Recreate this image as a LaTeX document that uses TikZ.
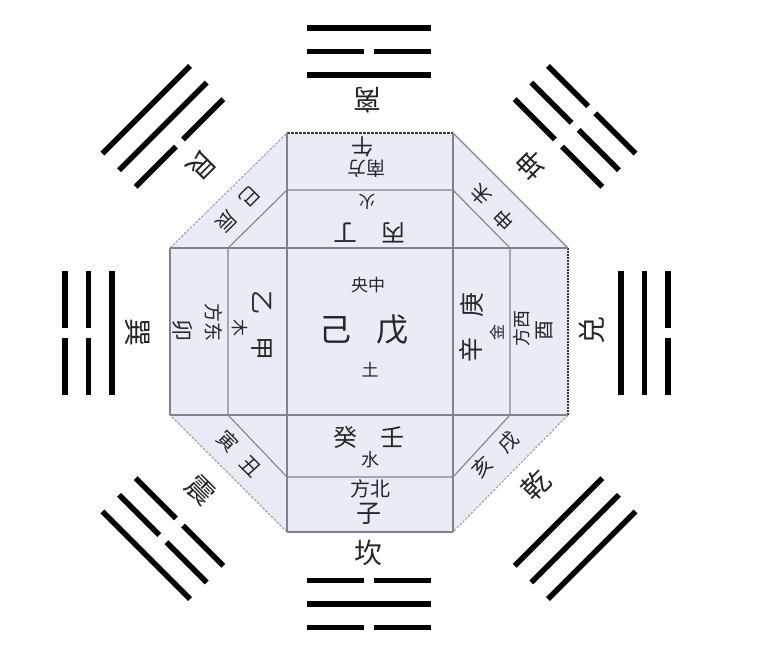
\documentclass[tikz,border=0pt]{standalone}
\usepackage{fontspec}
\newfontfamily\cjk{Noto Sans CJK SC}
\definecolor{panel}{RGB}{232,236,244}
\definecolor{rule}{RGB}{128,130,140}

% one trigram: angle, inner radius, inner/middle/outer line (1 = whole, 0 = broken)
\newcommand{\drawgua}[5]{%
  \begin{scope}[shift={(369,332.5)},rotate=#1]
    \foreach \k/\t in {0/#3,1/#4,2/#5}{
      \pgfmathsetmacro{\yaor}{#2+23.5*\k}
      \ifnum\t=1
        \draw[yao] (-62,\yaor) -- (62,\yaor);
      \else
        \draw[yao] (-62,\yaor) -- (-5,\yaor);
        \draw[yao] (5,\yaor) -- (62,\yaor);
      \fi
    }
  \end{scope}}

\begin{document}
\begin{tikzpicture}[x=1pt,y=-1pt,
  grid line/.style={draw=rule,line width=1.1pt},
  rim/.style={draw=rule,line width=1.1pt},
  rim dash/.style={draw=rule!75,line width=1.1pt,dash pattern=on 2.5pt off 1.5pt},
  yao/.style={draw=black,line width=5.5pt},
  hanzi/.style={font=\cjk\fontsize{#1}{#1}\selectfont,inner sep=0pt,text=black!85}]
  \useasboundingbox (0,0) rectangle (760,648);

  % outer octagon
  \coordinate (o1) at (287,133); \coordinate (o2) at (453,133);
  \coordinate (o3) at (568,248); \coordinate (o4) at (568,415);
  \coordinate (o5) at (453,532); \coordinate (o6) at (287,532);
  \coordinate (o7) at (170,415); \coordinate (o8) at (170,248);
  \fill[panel] (o1) -- (o2) -- (o3) -- (o4) -- (o5) -- (o6) -- (o7) -- (o8) -- cycle;
  \draw[rim dash,draw=rule!40!black] (o1) -- (o2);
  \draw[rim] (o2) -- (o3);
  \draw[rim dash,draw=black!80,dash pattern=on 1.5pt off 1.5pt] (o3) -- (o4);
  \draw[rim dash] (o4) -- (o5);
  \draw[rim] (o5) -- (o6);
  \draw[rim dash] (o6) -- (o7);
  \draw[rim] (o7) -- (o8);
  \draw[rim dash] (o8) -- (o1);

  % inner octagon
  \coordinate (i1) at (287,190); \coordinate (i2) at (453,190);
  \coordinate (i3) at (510,248); \coordinate (i4) at (510,415);
  \coordinate (i5) at (453,477); \coordinate (i6) at (287,477);
  \coordinate (i7) at (228,415); \coordinate (i8) at (228,248);
  \draw[grid line] (i1) -- (i2) -- (i3) -- (i4) -- (i5) -- (i6) -- (i7) -- (i8) -- cycle;

  % cross lines
  \draw[grid line] (o1) -- (o6);
  \draw[grid line] (o2) -- (o5);
  \draw[grid line] (o8) -- (o3);
  \draw[grid line] (o7) -- (o4);

  % south (top)
  \node[hanzi=22,rotate=180] (wu) at (362,147) {午};
  \node[hanzi=19,rotate=180] (nanfang) at (366,169) {南方};
  \node[hanzi=17,rotate=180] (huo) at (367,202) {火};
  \node[hanzi=24,rotate=180] (ding) at (345,233) {丁};
  \node[hanzi=24,rotate=180] (bing) at (393,233) {丙};

  % centre
  \node[hanzi=17] (zhongyang) at (368,285) {央中};
  \node[hanzi=32] (ji) at (335,330) {己};
  \node[hanzi=32] (wuu) at (392,330) {戊};
  \node[hanzi=17] (tu) at (370,370) {土};

  % north (bottom)
  \node[hanzi=24] (gui) at (345,437) {癸};
  \node[hanzi=24] (ren) at (392,437) {壬};
  \node[hanzi=18] (shui) at (370,460) {水};
  \node[hanzi=20] (beifang) at (370,489) {方北};
  \node[hanzi=25] (zi) at (369,514) {子};

  % east (left)
  \node[hanzi=24,rotate=-90] (yi) at (262,302) {乙};
  \node[hanzi=17,rotate=-90] (mu) at (240,328) {木};
  \node[hanzi=24,rotate=-90] (jia) at (262,348) {甲};
  \node[hanzi=19,rotate=-90] (dongfang) at (214,322) {方东};
  \node[hanzi=22,rotate=-90] (mao) at (183,330) {卯};

  % west (right)
  \node[hanzi=25,rotate=90] (geng) at (472,305) {庚};
  \node[hanzi=16,rotate=90] (jin) at (497,332) {金};
  \node[hanzi=25,rotate=90] (xin) at (471,350) {辛};
  \node[hanzi=18,rotate=90] (xifang) at (522,328) {方西};
  \node[hanzi=20,rotate=90] (you) at (545,330) {酉};

  % corners
  \node[hanzi=20,rotate=-135] (si) at (250,197) {巳};
  \node[hanzi=20,rotate=-135] (chen) at (226,222) {辰};
  \node[hanzi=20,rotate=135] (wei) at (481,195) {未};
  \node[hanzi=20,rotate=135] (shen) at (504,220) {申};
  \node[hanzi=20,rotate=-45] (yin) at (228,441) {寅};
  \node[hanzi=20,rotate=-45] (chou) at (251,466) {丑};
  \node[hanzi=20,rotate=45] (xu) at (508,442) {戌};
  \node[hanzi=20,rotate=45] (hai) at (482,467) {亥};

  % trigram names
  \node[hanzi=28,rotate=180] (li) at (367,100) {离};
  \node[hanzi=28,rotate=-135] (gen) at (202,165) {艮};
  \node[hanzi=28,rotate=-90] (xun) at (138,332) {巽};
  \node[hanzi=28,rotate=-45] (zhen) at (200,490) {震};
  \node[hanzi=28] (kan) at (368,553) {坎};
  \node[hanzi=28,rotate=45] (qian) at (536,485) {乾};
  \node[hanzi=28,rotate=90] (dui) at (592,330) {兑};
  \node[hanzi=28,rotate=135] (kun) at (531,165) {坤};

  % trigram lines
  \drawgua{180}{257.5}{1}{0}{1}
  \drawgua{0}{248}{0}{1}{0}
  \drawgua{-90}{257}{1}{0}{0}
  \drawgua{90}{252}{1}{1}{0}
  \drawgua{-135}{268}{0}{1}{1}
  \drawgua{135}{268}{0}{0}{0}
  \drawgua{45}{268}{1}{1}{1}
  \drawgua{-45}{268}{0}{0}{1}
\end{tikzpicture}
\end{document}
